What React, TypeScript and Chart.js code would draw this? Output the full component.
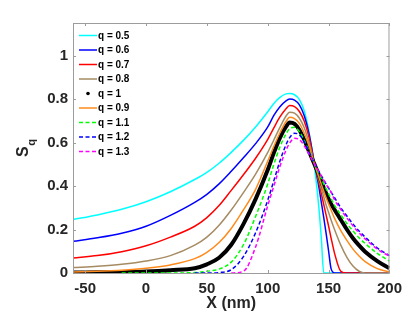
import { useEffect, useRef } from "react";
import { Chart, registerables } from "chart.js";

Chart.register(...registerables);

// ---------- data ----------
const xNm = [-60, -40, -20, 0, 20, 40, 50, 60, 70, 80, 90, 100, 105, 110, 115, 118, 122, 126, 130, 134, 138, 142, 144, 146, 148, 150, 152, 155, 160, 165, 170, 175, 180, 190, 200];

const q05 = [0.246, 0.267, 0.293, 0.328, 0.374, 0.43, 0.463, 0.505, 0.555, 0.61, 0.672, 0.742, 0.78, 0.808, 0.824, 0.826, 0.82, 0.798, 0.745, 0.645, 0.505, 0.3, 0.16, 0, 0, 0, 0, 0, 0, 0, 0, 0, 0, 0, 0];
const q06 = [0.146, 0.162, 0.183, 0.215, 0.265, 0.325, 0.362, 0.41, 0.468, 0.53, 0.595, 0.672, 0.725, 0.765, 0.792, 0.8, 0.795, 0.773, 0.723, 0.638, 0.515, 0.395, 0.325, 0.255, 0.18, 0.1, 0.02, 0, 0, 0, 0, 0, 0, 0, 0];
const q07 = [0.069, 0.08, 0.098, 0.125, 0.165, 0.215, 0.255, 0.31, 0.38, 0.452, 0.528, 0.615, 0.668, 0.718, 0.756, 0.77, 0.765, 0.743, 0.698, 0.622, 0.512, 0.415, 0.365, 0.315, 0.265, 0.215, 0.162, 0.088, 0.008, 0, 0, 0, 0, 0, 0];
const q08 = [0.025, 0.031, 0.04, 0.055, 0.08, 0.128, 0.165, 0.22, 0.29, 0.37, 0.455, 0.555, 0.612, 0.67, 0.722, 0.74, 0.735, 0.712, 0.668, 0.598, 0.508, 0.428, 0.388, 0.35, 0.312, 0.278, 0.244, 0.198, 0.128, 0.072, 0.032, 0.008, 0, 0, 0];
const q1 = [0.002, 0.003, 0.004, 0.007, 0.013, 0.022, 0.04, 0.07, 0.13, 0.225, 0.34, 0.475, 0.553, 0.622, 0.673, 0.692, 0.686, 0.658, 0.613, 0.558, 0.505, 0.45, 0.42, 0.392, 0.365, 0.34, 0.318, 0.29, 0.245, 0.2, 0.16, 0.127, 0.098, 0.055, 0.022];
const q09 = [0.005, 0.008, 0.013, 0.022, 0.037, 0.066, 0.095, 0.14, 0.205, 0.29, 0.385, 0.515, 0.583, 0.645, 0.697, 0.716, 0.71, 0.688, 0.643, 0.583, 0.508, 0.44, 0.408, 0.376, 0.345, 0.317, 0.29, 0.25, 0.195, 0.15, 0.11, 0.078, 0.052, 0.02, 0.005];
const q11 = [null, null, 0, 0, 0, 0.002, 0.008, 0.018, 0.05, 0.13, 0.26, 0.41, 0.5, 0.58, 0.64, 0.664, 0.67, 0.65, 0.61, 0.56, 0.507, 0.458, 0.434, 0.41, 0.387, 0.364, 0.343, 0.31, 0.268, 0.228, 0.193, 0.162, 0.136, 0.09, 0.055];
const q12 = [null, null, null, null, null, 0, 0, 0.002, 0.015, 0.075, 0.185, 0.335, 0.425, 0.515, 0.59, 0.623, 0.643, 0.635, 0.603, 0.556, 0.508, 0.467, 0.448, 0.428, 0.408, 0.39, 0.372, 0.345, 0.3, 0.262, 0.225, 0.193, 0.165, 0.115, 0.08];
const q13 = [null, null, null, null, null, null, null, null, 0, 0.008, 0.12, 0.31, 0.4, 0.49, 0.565, 0.598, 0.62, 0.613, 0.585, 0.545, 0.505, 0.465, 0.446, 0.427, 0.408, 0.39, 0.372, 0.335, 0.292, 0.253, 0.217, 0.185, 0.157, 0.11, 0.077];

const seriesLabels = ["q = 0.5", "q = 0.6", "q = 0.7", "q = 0.8", "q = 1", "q = 0.9", "q = 1.1", "q = 1.2", "q = 1.3"];
const seriesValues = [q05, q06, q07, q08, q1, q09, q11, q12, q13];
const seriesColors = ["#00FFFF", "#0000FF", "#FF0000", "#A58B62", "#000000", "#FF8A1C", "#00FF00", "#0000FF", "#FF00FF"];
const seriesDashed = [false, false, false, false, false, false, true, true, true];
const seriesDots = [false, false, false, false, true, false, false, false, false];

const xTicks = [-50, 0, 50, 100, 150, 200];
const yTicks = [0, 0.2, 0.4, 0.6, 0.8, 1];

const FONT = '"Liberation Sans", Arial, Helvetica, sans-serif';
const AXIS_GRAY = "#9c9c9c";
const TEXT = "#262626";

const framePlugin = {
  id: "frame",
  afterDatasetsDraw(chart: any) {
    const { ctx, chartArea: a, scales } = chart;
    ctx.save();
    ctx.strokeStyle = AXIS_GRAY;
    ctx.lineWidth = 1;
    ctx.setLineDash([]);
    ctx.strokeRect(a.left + 0.5, a.top + 0.5, a.right - a.left - 1, a.bottom - a.top);
    const tl = 3;
    ctx.beginPath();
    for (const v of xTicks) {
      const px = Math.round(scales.x.getPixelForValue(v)) + 0.5;
      ctx.moveTo(px, a.bottom);
      ctx.lineTo(px, a.bottom - tl);
      ctx.moveTo(px, a.top);
      ctx.lineTo(px, a.top + tl);
    }
    for (const v of yTicks) {
      const py = Math.round(scales.y.getPixelForValue(v)) + 0.5;
      ctx.moveTo(a.left, py);
      ctx.lineTo(a.left + tl, py);
      ctx.moveTo(a.right, py);
      ctx.lineTo(a.right - tl, py);
    }
    ctx.stroke();
    ctx.restore();
  },
};

const yTitlePlugin = {
  id: "ytitle",
  afterDraw(chart: any) {
    const { ctx } = chart;
    ctx.save();
    ctx.translate(28, 157);
    ctx.rotate(-Math.PI / 2);
    ctx.fillStyle = TEXT;
    ctx.textBaseline = "alphabetic";
    ctx.textAlign = "left";
    ctx.font = `bold 16px ${FONT}`;
    ctx.fillText("S", 0, 0);
    const w = ctx.measureText("S").width;
    ctx.font = `bold 11px ${FONT}`;
    ctx.fillText("q", w + 0.5, 6.5);
    ctx.restore();
  },
};

const legendPlugin = {
  id: "qlegend",
  afterDraw(chart: any) {
    const { ctx, chartArea: a } = chart;
    ctx.save();
    ctx.font = `bold 10px ${FONT}`;
    ctx.textBaseline = "middle";
    ctx.textAlign = "left";
    seriesLabels.forEach((lab, i) => {
      const y = a.top + 12.5 + i * 14.5;
      const x0 = a.left + 6;
      const x1 = a.left + 24;
      if (seriesDots[i]) {
        ctx.fillStyle = seriesColors[i];
        ctx.beginPath();
        ctx.arc((x0 + x1) / 2, y, 1.8, 0, Math.PI * 2);
        ctx.fill();
      } else {
        ctx.strokeStyle = seriesColors[i];
        ctx.lineWidth = 1.5;
        ctx.setLineDash(seriesDashed[i] ? [4, 2.5] : []);
        ctx.beginPath();
        ctx.moveTo(x0, y);
        ctx.lineTo(x1, y);
        ctx.stroke();
      }
      ctx.setLineDash([]);
      ctx.fillStyle = "#000";
      ctx.fillText(lab, x1 + 1, y + 0.5);
    });
    ctx.restore();
  },
};

export default function App() {
  const ref = useRef<HTMLCanvasElement>(null);
  useEffect(() => {
    const canvas = ref.current;
    if (!canvas) return;
    const n = seriesValues.length;
    const datasets = seriesValues.map((vals, i) => ({
      label: seriesLabels[i],
      data: xNm
        .map((x, k) => ({ x, y: vals[k] }))
        .filter((p) => p.y !== null && p.y !== undefined),
      borderColor: seriesColors[i],
      backgroundColor: seriesColors[i],
      borderWidth: seriesDots[i] ? 4 : 1.5,
      borderDash: seriesDashed[i] ? [4, 2.5] : [],
      pointRadius: 0,
      fill: false,
      cubicInterpolationMode: "monotone" as const,
      order: n - i,
    }));
    const chart = new Chart(canvas, {
      type: "line",
      data: { datasets },
      options: {
        animation: false,
        responsive: false,
        devicePixelRatio: 1,
        layout: { padding: { top: 23, right: 18, left: 0, bottom: 0 } },
        plugins: { legend: { display: false }, tooltip: { enabled: false } },
        scales: {
          x: {
            type: "linear",
            min: -60,
            max: 200,
            afterBuildTicks: (s: any) => {
              s.ticks = xTicks.map((v) => ({ value: v }));
            },
            afterFit: (s: any) => {
              s.height = 43;
            },
            grid: { display: false, drawTicks: false },
            border: { display: false },
            ticks: {
              padding: 7,
              color: TEXT,
              maxRotation: 0,
              autoSkip: false,
              font: { family: FONT, size: 15, weight: "bold" },
              callback: (v: any) => String(v),
            },
            title: {
              display: true,
              text: "X (nm)",
              color: TEXT,
              font: { family: FONT, size: 16, weight: "bold" },
              padding: { top: 0, bottom: 3 },
            },
          },
          y: {
            type: "linear",
            min: 0,
            max: 1.15,
            afterBuildTicks: (s: any) => {
              s.ticks = yTicks.map((v) => ({ value: v }));
            },
            afterFit: (s: any) => {
              s.width = 73;
            },
            grid: { display: false, drawTicks: false },
            border: { display: false },
            ticks: {
              padding: 5,
              color: TEXT,
              autoSkip: false,
              font: { family: FONT, size: 15, weight: "bold" },
              callback: (v: any) => String(v),
            },
          },
        },
      } as any,
      plugins: [framePlugin, yTitlePlugin, legendPlugin],
    });
    return () => chart.destroy();
  }, []);
  return (
    <canvas
      ref={ref}
      width={409}
      height={316}
      style={{ position: "fixed", left: 0, top: 0, width: 409, height: 316, background: "#fff" }}
    />
  );
}
